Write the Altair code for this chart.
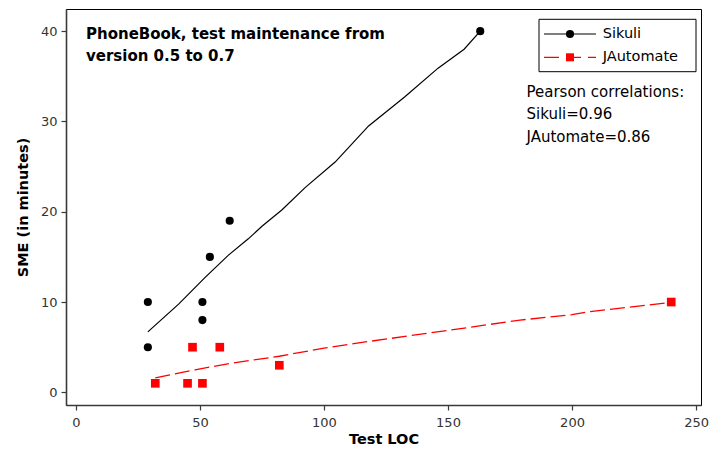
import altair as alt
import pandas as pd

# ---- data ----
sikuli_loc = [29, 29, 51, 51, 54, 62, 163]
sikuli_sme = [10, 5, 10, 8, 15, 19, 40]
jauto_loc = [32, 45, 47, 51, 58, 82, 240]
jauto_sme = [1, 1, 5, 1, 5, 3, 10]

# fitted (smoothed) curves as drawn in the reference
sikuli_fit_loc = [29, 41.5, 52, 61.5, 69.5, 75, 83, 92.5, 104.5, 118, 132.5, 146, 156.5, 163]
sikuli_fit_sme = [6.7, 9.8, 12.7, 15.2, 17.0, 18.4, 20.2, 22.7, 25.5, 29.5, 32.7, 35.9, 38.0, 40.0]
jauto_fit_loc = [32, 48, 62, 82, 100, 112, 151, 179, 200, 206, 241]
jauto_fit_sme = [1.6, 2.5, 3.2, 4.0, 4.9, 5.4, 6.9, 8.0, 8.6, 8.9, 10.0]

series_names = ["Sikuli", "JAutomate"]
series_colors = ["#000000", "#ff0000"]
x_ticks = [0, 50, 100, 150, 200, 250]
y_ticks = [0, 10, 20, 30, 40]
title_lines = ["PhoneBook, test maintenance from", "version 0.5 to 0.7"]
pearson_lines = ["Pearson correlations:", "Sikuli=0.96", "JAutomate=0.86"]

FONT = "DejaVu Sans"

sik_pts = pd.DataFrame({"loc": sikuli_loc, "sme": sikuli_sme})
ja_pts = pd.DataFrame({"loc": jauto_loc, "sme": jauto_sme})
sik_fit = pd.DataFrame({"loc": sikuli_fit_loc, "sme": sikuli_fit_sme})
ja_fit = pd.DataFrame({"loc": jauto_fit_loc, "sme": jauto_fit_sme})
one = pd.DataFrame({"k": [0]})

xenc = alt.X(
    "loc:Q",
    title="Test LOC",
    scale=alt.Scale(domain=[-4, 252], nice=False, zero=False),
    axis=alt.Axis(values=x_ticks, grid=False, titleBaseline="alphabetic", titleY=38,
                  labelPadding=6),
)
yenc = alt.Y(
    "sme:Q",
    title="SME (in minutes)",
    scale=alt.Scale(domain=[-1.4, 42.45], nice=False, zero=False),
    axis=alt.Axis(values=y_ticks, grid=False, titleBaseline="alphabetic", titleX=-39,
                  labelPadding=4),
)

sik_line = alt.Chart(sik_fit).mark_line(color=series_colors[0], strokeWidth=1.2).encode(
    x=xenc, y=yenc, order="loc:Q")
ja_line = alt.Chart(ja_fit).mark_line(color=series_colors[1], strokeWidth=1.3,
                                      strokeDash=[15, 5]).encode(
    x=xenc, y=yenc, order="loc:Q")
sik_points = alt.Chart(sik_pts).mark_circle(color=series_colors[0], size=66, opacity=1).encode(
    x=xenc, y=yenc)
ja_points = alt.Chart(ja_pts).mark_square(color=series_colors[1], size=75, opacity=1).encode(
    x=xenc, y=yenc)

# ---- legend panel ----
leg_box = alt.Chart(one).mark_rect(fill="white", stroke="black", strokeWidth=1).encode(
    x=alt.value(473), x2=alt.value(630), y=alt.value(10.3), y2=alt.value(62.7))
leg_sik_line = alt.Chart(one).mark_rule(color=series_colors[0], strokeWidth=1.2).encode(
    x=alt.value(478), x2=alt.value(530), y=alt.value(25))
leg_sik_sym = alt.Chart(one).mark_circle(color=series_colors[0], size=66, opacity=1).encode(
    x=alt.value(504), y=alt.value(25))
leg_ja_line = alt.Chart(one).mark_rule(color=series_colors[1], strokeWidth=1.3,
                                       strokeDash=[15, 7]).encode(
    x=alt.value(478), x2=alt.value(530), y=alt.value(48.3))
leg_ja_sym = alt.Chart(one).mark_square(color=series_colors[1], size=64, opacity=1).encode(
    x=alt.value(504), y=alt.value(48.3))
leg_sik_lab = alt.Chart(one).mark_text(align="left", baseline="middle", font=FONT,
                                       fontSize=14.5, color="black").encode(
    x=alt.value(536.7), y=alt.value(25), text=alt.value(series_names[0]))
leg_ja_lab = alt.Chart(one).mark_text(align="left", baseline="middle", font=FONT,
                                      fontSize=14.5, color="black").encode(
    x=alt.value(536.7), y=alt.value(48.3), text=alt.value(series_names[1]))

title_text = alt.Chart(one).mark_text(
    align="left", baseline="alphabetic", font=FONT, fontSize=15, fontWeight="bold",
    color="black", lineHeight=22,
).encode(x=alt.value(20), y=alt.value(29.5), text=alt.value(title_lines))

pearson_text = alt.Chart(one).mark_text(
    align="left", baseline="alphabetic", font=FONT, fontSize=15,
    color="black", lineHeight=22.2,
).encode(x=alt.value(460.5), y=alt.value(88.3), text=alt.value(pearson_lines))

chart = alt.layer(
    sik_line, ja_line, sik_points, ja_points,
    leg_box, leg_sik_line, leg_sik_sym, leg_ja_line, leg_ja_sym, leg_sik_lab, leg_ja_lab,
    title_text, pearson_text,
).properties(
    width=635, height=396,
    padding={"left": 58, "top": 1, "right": 8, "bottom": 44},
    autosize=alt.AutoSizeParams(type="none"),
).configure_view(
    stroke="black", strokeWidth=1
).configure_axis(
    domainColor="#3a3a3a", domainWidth=1.6, tickColor="#3a3a3a", tickWidth=1.2, tickSize=5,
    labelFont=FONT, labelFontSize=13, labelColor="#333333",
    titleFont=FONT, titleFontSize=14.5, titleFontWeight="bold", titleColor="black",
)

chart.save("out.html", embed_options={"renderer": "svg", "actions": False})
